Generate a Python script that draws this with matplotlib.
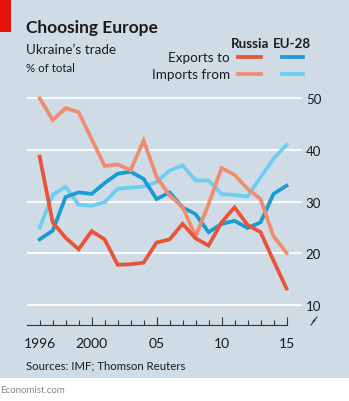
import numpy as np
import matplotlib
matplotlib.use("Agg")
import matplotlib.pyplot as plt
from matplotlib.patches import Rectangle
from matplotlib.lines import Line2D

# dados (% do total)
anos = list(range(1996, 2016))
exp_russia = [38.7, 26.0, 23.0, 20.8, 24.3, 22.7, 17.8, 17.9, 18.2, 22.1,
              22.7, 25.7, 22.9, 21.5, 26.0, 28.9, 25.5, 24.1, 18.6, 13.2]
imp_russia = [50.0, 45.8, 48.1, 47.3, 42.1, 36.9, 37.2, 36.1, 41.8, 34.8,
              31.2, 29.0, 23.3, 29.5, 36.5, 35.2, 32.5, 30.5, 23.3, 20.1]
exp_eu = [22.7, 24.4, 30.9, 31.8, 31.5, 33.6, 35.4, 35.8, 34.4, 30.5,
          31.8, 28.9, 27.6, 24.1, 25.7, 26.3, 24.9, 26.0, 31.5, 33.1]
imp_eu = [25.0, 31.3, 32.9, 29.4, 29.2, 29.9, 32.5, 32.7, 32.9, 33.8,
          36.0, 37.0, 34.1, 34.1, 31.5, 31.3, 31.0, 34.7, 38.3, 41.0]

yticks = [10, 20, 30, 40, 50]
xticks_maj = [2000, 2005, 2010, 2015]
xlabels_maj = ["2000", "05", "10", "15"]

W, H = 349, 402
FUNDO = "#cfdce6"
C_EXP_RU = "#e9533a"
C_IMP_RU = "#f08c70"
C_EXP_EU = "#1b9bd3"
C_IMP_EU = "#6fcdf3"
TXT = "#1a1a1a"

plt.rcParams["font.family"] = ["Lato", "DejaVu Sans"]


def fx(px):
    return px / W


def fy(py):
    return (H - py) / H


fig = plt.figure(figsize=(W / 100, H / 100), dpi=100)
fig.patch.set_facecolor("white")

# painel de fundo e etiqueta vermelha
fig.patches.append(Rectangle((0, fy(379)), 1, 1 - fy(379), transform=fig.transFigure,
                             facecolor=FUNDO, edgecolor="none", zorder=-10))
fig.patches.append(Rectangle((0, fy(33)), fx(11), 1 - fy(33), transform=fig.transFigure,
                             facecolor="#e3120b", edgecolor="none", zorder=-9))

ax = fig.add_axes([fx(26.7), fy(325.7), fx(301.7) - fx(26.7), fy(90.5) - fy(325.7)])
ax.set_zorder(2)
ax.set_facecolor("none")
ax.set_xlim(1995.0, 2016.17)
ax.set_ylim(6.2, 51.7)

for v in yticks:
    ax.axhline(v, color="white", lw=1.3, zorder=1)

lw = 2.7
ax.plot(anos, imp_eu, color=C_IMP_EU, lw=lw, zorder=3, solid_joinstyle="miter")
ax.plot(anos, exp_eu, color=C_EXP_EU, lw=lw, zorder=4, solid_joinstyle="miter")
ax.plot(anos, imp_russia, color=C_IMP_RU, lw=lw, zorder=5, solid_joinstyle="miter")
ax.plot(anos, exp_russia, color=C_EXP_RU, lw=lw, zorder=6, solid_joinstyle="miter")

for s in ["top", "right", "left"]:
    ax.spines[s].set_visible(False)
ax.spines["bottom"].set_bounds(1995, 2015)
ax.spines["bottom"].set_color("#333333")
ax.spines["bottom"].set_linewidth(0.8)

ax.yaxis.tick_right()
ax.set_yticks(yticks)
ax.set_yticklabels([str(v) for v in yticks], fontsize=9.5, color=TXT)
ax.tick_params(axis="y", length=0, pad=3)

ax.set_xticks(xticks_maj)
ax.set_xticklabels(xlabels_maj, fontsize=10, color=TXT)
ax.set_xticks(anos, minor=True)
ax.tick_params(axis="x", which="major", direction="in", length=6, width=0.8,
               color="#333333", pad=9)
ax.tick_params(axis="x", which="minor", direction="in", length=3.5, width=0.8,
               color="#333333")
ax.annotate(str(anos[0]), xy=(anos[0], 0), xycoords=ax.get_xaxis_transform(),
            xytext=(0, -9), textcoords="offset points",
            ha="center", va="top", fontsize=10, color=TXT)

# titulos
fig.text(fx(26), fy(33), "Choosing Europe", fontsize=12.5, fontweight="bold", color=TXT)
fig.text(fx(26), fy(54.5), "Ukraine\u2019s trade", fontsize=9.7, color=TXT)
fig.text(fx(26), fy(71.5), "% of total", fontsize=8.3, color=TXT)

# legenda
fig.text(fx(249.7), fy(47.5), "Russia", fontsize=9.6, fontweight="bold", color=TXT, ha="center")
fig.text(fx(292.3), fy(47.5), "EU-28", fontsize=9.6, fontweight="bold", color=TXT, ha="center")
fig.text(fx(230), fy(58.5), "Exports to", fontsize=9.7, color=TXT, ha="right", va="center")
fig.text(fx(230), fy(75), "Imports from", fontsize=9.7, color=TXT, ha="right", va="center")
for (x0, x1, y, c) in [(238.3, 261, 58.3, C_EXP_RU), (281.7, 303, 58.3, C_EXP_EU),
                       (238.3, 261, 75, C_IMP_RU), (281.7, 303, 75, C_IMP_EU)]:
    fig.lines.append(Line2D([fx(x0), fx(x1)], [fy(y), fy(y)], transform=fig.transFigure,
                            color=c, lw=2.7))

# simbolo de quebra do eixo
fig.lines.append(Line2D([fx(311), fx(315), fx(313), fx(317)],
                        [fy(326), fy(321), fy(322.5), fy(318)],
                        transform=fig.transFigure, color="#333333", lw=0.8))

fig.text(fx(26), fy(369.5), "Sources: IMF; Thomson Reuters", fontsize=8.2, color=TXT)
fig.text(fx(0), fy(393), "Economist.com", fontsize=7.0, color="#8a8a8a")

fig.savefig("out.png", dpi=100, facecolor=fig.get_facecolor())
